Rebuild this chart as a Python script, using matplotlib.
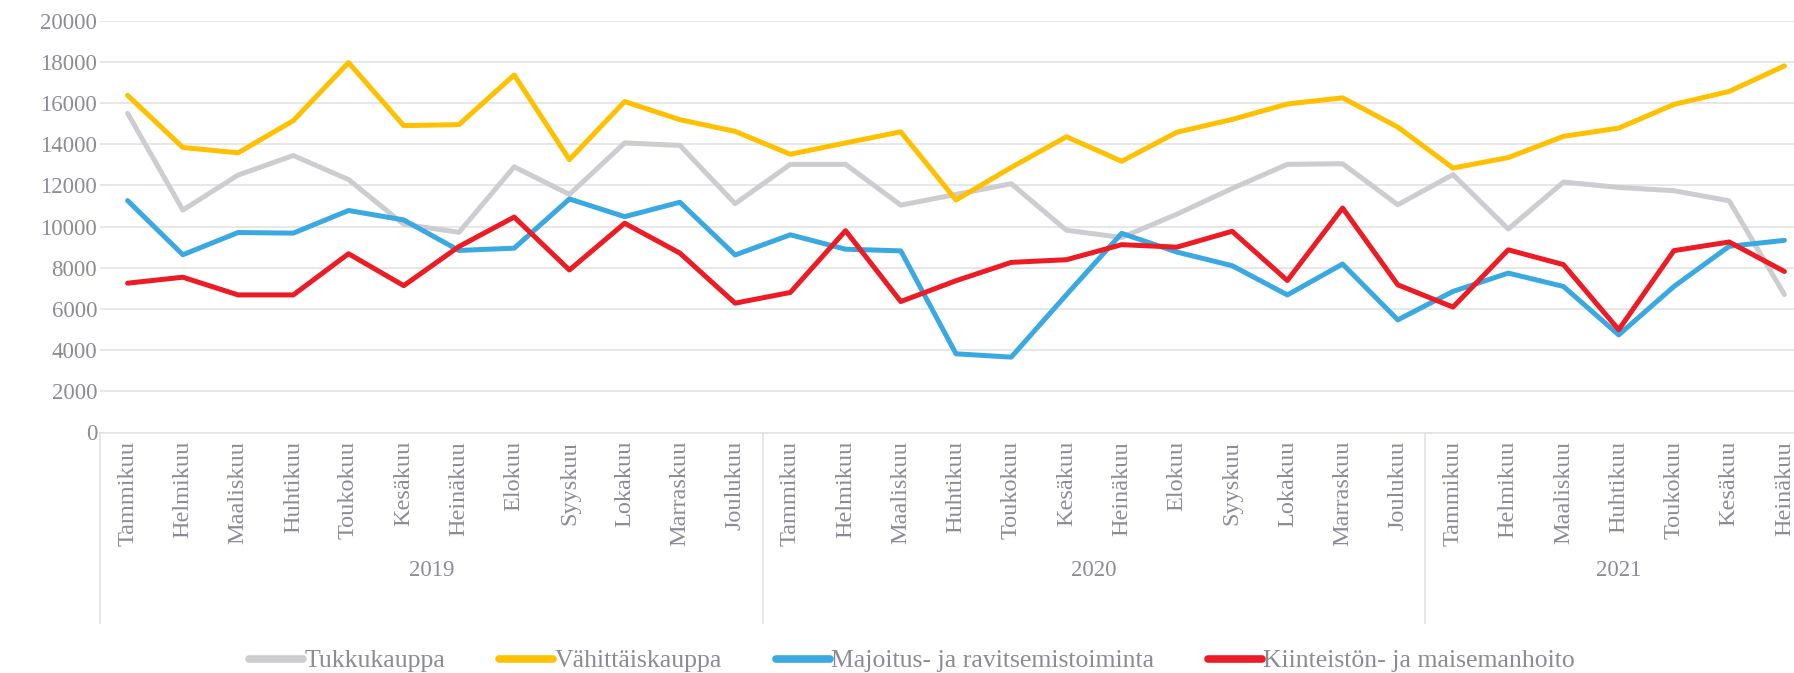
import matplotlib
matplotlib.use("Agg")
import matplotlib.pyplot as plt
from matplotlib.lines import Line2D
import matplotlib.transforms as mtransforms

# ---------------- data ----------------
months = ['Tammikuu', 'Helmikuu', 'Maaliskuu', 'Huhtikuu', 'Toukokuu', 'Kesäkuu',
          'Heinäkuu', 'Elokuu', 'Syyskuu', 'Lokakuu', 'Marraskuu', 'Joulukuu']
years = ['2019', '2020', '2021']
months_per_year = [12, 12, 7]
month_labels = months * 2 + months[:7]

series_names = ['Tukkukauppa', 'Vähittäiskauppa',
                'Majoitus- ja ravitsemistoiminta', 'Kiinteistön- ja maisemanhoito']

tukkukauppa = [15500, 10800, 12500, 13450, 12280, 10110, 9720, 12900, 11560, 14060,
               13940, 11110, 13020, 13020, 11040, 11560, 12080, 9820, 9470, 10600,
               11850, 13020, 13050, 11060, 12520, 9880, 12160, 11900, 11740, 11250, 6700]
vahittaiskauppa = [16370, 13840, 13580, 15140, 17960, 14900, 14950, 17360, 13250, 16070,
                   15190, 14620, 13510, 14060, 14600, 11290, 12870, 14360, 13170, 14580,
                   15200, 15950, 16250, 14830, 12840, 13350, 14380, 14780, 15930, 16560, 17800]
majoitus = [11260, 8630, 9710, 9680, 10780, 10320, 8840, 8950, 11340, 10480,
            11180, 8620, 9600, 8900, 8820, 3820, 3660, 6690, 9670, 8760,
            8100, 6680, 8180, 5470, 6850, 7740, 7090, 4740, 7090, 9040, 9330]
kiinteisto = [7250, 7540, 6680, 6680, 8680, 7130, 9030, 10460, 7890, 10160,
              8710, 6280, 6800, 9800, 6360, 7370, 8260, 8390, 9120, 9000,
              9770, 7380, 10900, 7170, 6090, 8870, 8150, 4990, 8830, 9250, 7820]

colors = ['#cdcdd1', '#ffc000', '#3ba9e1', '#ed1c24']
text_color = '#8b8c95'
grid_color = '#e3e3e3'

plt.rcParams['font.family'] = ['Liberation Serif', 'DejaVu Serif']

W, H = 1794, 673
fig = plt.figure(figsize=(W / 100, H / 100), dpi=100)
left_px, right_px, top_px, bottom_px = 100, 1812, 20.6, 432.5
ax = fig.add_axes([left_px / W, 1 - bottom_px / H, (right_px - left_px) / W,
                   (bottom_px - top_px) / H])

x = list(range(len(month_labels)))
for vals, c, name in zip([tukkukauppa, vahittaiskauppa, majoitus, kiinteisto], colors, series_names):
    ax.plot(x, vals, color=c, lw=3.6, label=name, solid_capstyle='round',
            solid_joinstyle='round', clip_on=False, zorder=3)

ax.set_xlim(-0.5, len(month_labels) - 0.5)
ax.set_ylim(0, 20000)
ax.set_yticks(range(0, 20001, 2000))
ax.yaxis.grid(True, color=grid_color, lw=1.2)
ax.set_axisbelow(True)
for s in ['top', 'right', 'left']:
    ax.spines[s].set_visible(False)
ax.spines['bottom'].set_color(grid_color)
ax.spines['bottom'].set_linewidth(1.2)

ax.tick_params(axis='y', length=0, pad=2, labelsize=16.5, labelcolor=text_color)
ax.set_xticks(x)
ax.set_xticklabels(month_labels, rotation=90, va='top', ha='center')
ax.tick_params(axis='x', length=0, pad=6, labelsize=17.5, labelcolor=text_color)

# year group separators and labels
trans = mtransforms.blended_transform_factory(ax.transData, fig.transFigure)
sep_bottom = 1 - 623 / H
sep_top = 1 - bottom_px / H
start = 0
bounds = [-0.5]
for n in months_per_year:
    start += n
    bounds.append(start - 0.5)
for b in bounds:
    fig.add_artist(Line2D([b, b], [sep_bottom, sep_top], transform=trans,
                          color=grid_color, lw=1.2))
start = 0
for yr, n in zip(years, months_per_year):
    center = start + (n - 1) / 2
    fig.text(center, 1 - 570 / H, yr, transform=trans, ha='center', va='center',
             fontsize=16.5, color=text_color)
    start += n

leg = fig.legend(loc='center', bbox_to_anchor=(912 / W, 1 - 661 / H), ncol=4,
                 frameon=False, fontsize=18.5, handlelength=2.1, handletextpad=0.05,
                 columnspacing=2.1, labelcolor=text_color)
for lh in leg.get_lines():
    lh.set_linewidth(5.5)
    lh.set_solid_capstyle('round')

fig.savefig('out.png', dpi=100)
